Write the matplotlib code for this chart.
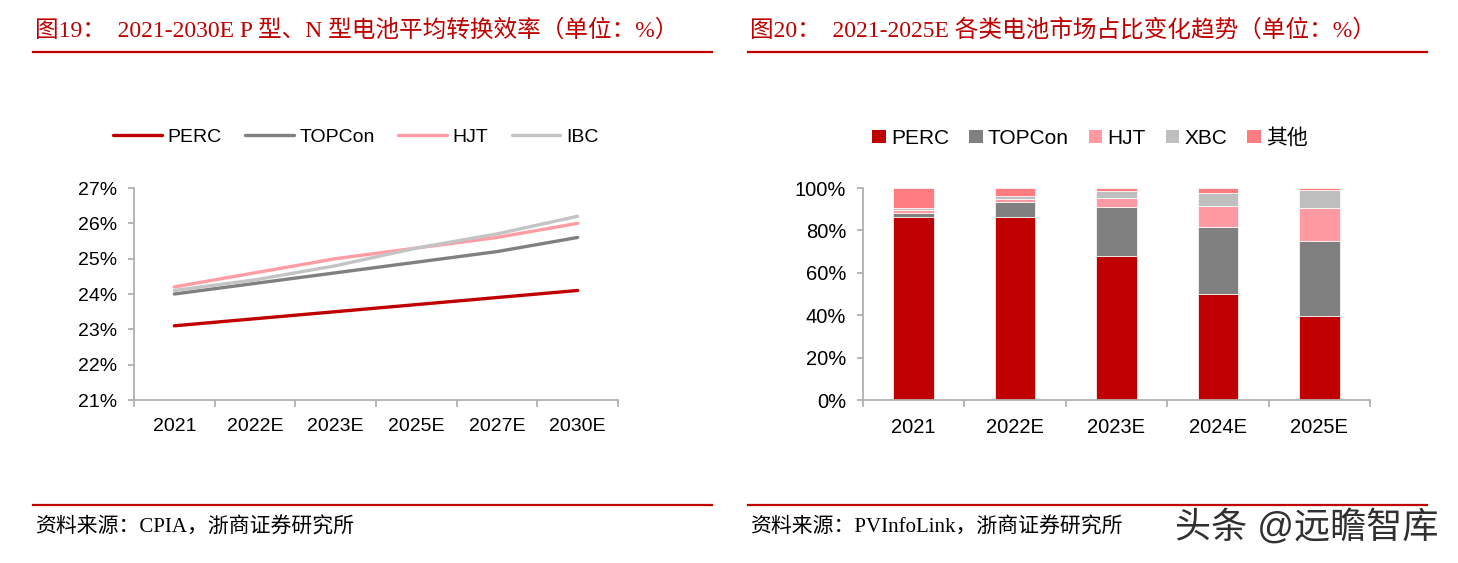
import matplotlib
matplotlib.use('Agg')
import matplotlib.pyplot as plt
from matplotlib.patches import Patch
from matplotlib.lines import Line2D
import numpy as np

plt.rcParams['font.family'] = ['Liberation Sans', 'Noto Sans CJK SC', 'DejaVu Sans']

# ---- 数据 ----
years_eff = ['2021', '2022E', '2023E', '2025E', '2027E', '2030E']
perc_eff = [23.1, 23.3, 23.5, 23.7, 23.9, 24.1]
topcon_eff = [24.0, 24.3, 24.6, 24.9, 25.2, 25.6]
hjt_eff = [24.2, 24.6, 25.0, 25.3, 25.6, 26.0]
ibc_eff = [24.1, 24.4, 24.8, 25.3, 25.7, 26.2]

years_share = ['2021', '2022E', '2023E', '2024E', '2025E']
perc_share = [86.5, 86.5, 68.1, 49.8, 39.8]
topcon_share = [1.9, 7.0, 22.9, 31.8, 35.3]
hjt_share = [1.1, 1.3, 4.1, 9.9, 15.3]
xbc_share = [1.1, 1.4, 3.6, 6.1, 8.5]
other_share = [9.4, 3.8, 1.3, 2.4, 1.1]

title_left = '图19：  2021-2030E P 型、N 型电池平均转换效率（单位：%）'
title_right = '图20：  2021-2025E 各类电池市场占比变化趋势（单位：%）'
source_left = '资料来源：CPIA，浙商证券研究所'
source_right = '资料来源：PVInfoLink，浙商证券研究所'

W, H = 1458, 563
fig = plt.figure(figsize=(W / 100, H / 100), dpi=100)

RED = '#C00000'
AXC = '#B0B0B0'
serif = ['Liberation Serif', 'Noto Sans CJK SC']


def fx(px):
    return px / W


def fy(py):
    return 1 - py / H


# 标题与底部说明
for x0, x1, t, s in [(33, 712, title_left, source_left), (748, 1427, title_right, source_right)]:
    fig.text(fx(x0 + 2), fy(30), t, color=RED, fontsize=17, family=serif, va='center', ha='left')
    fig.add_artist(Line2D([fx(x0), fx(x1)], [fy(52), fy(52)], color=RED, lw=1.6))
    fig.add_artist(Line2D([fx(x0), fx(x1)], [fy(505), fy(505)], color=RED, lw=1.6))
    fig.text(fx(x0 + 2), fy(528), s, color='black', fontsize=15, family=serif, va='center', ha='left')

fig.text(fx(1175), fy(528), '头条 @远瞻智库', color='#303030', fontsize=26, va='center', ha='left')


def style_axis(ax, n, fs):
    for sp in ['top', 'right']:
        ax.spines[sp].set_visible(False)
    ax.spines['left'].set_color(AXC)
    ax.spines['bottom'].set_color(AXC)
    ax.spines['left'].set_linewidth(1.3)
    ax.spines['bottom'].set_linewidth(1.3)
    ax.set_xlim(-0.5, n - 0.5)
    ax.set_xticks(range(n))
    ax.set_xticks(np.arange(-0.5, n, 1.0), minor=True)
    ax.tick_params(axis='x', which='major', length=0, pad=13, labelsize=fs)
    ax.tick_params(axis='x', which='minor', length=5, width=1.3, color=AXC)
    ax.tick_params(axis='y', length=4, width=1.3, color=AXC, pad=8, labelsize=fs)


# ---- 左图：转换效率 ----
ax1 = fig.add_axes([fx(134), fy(400), fx(618 - 134), (400 - 188) / H])
x = np.arange(len(years_eff))
ax1.plot(x, perc_eff, color='#C00000', lw=2.4, label='PERC', solid_capstyle='round')
ax1.plot(x, topcon_eff, color='#808080', lw=2.4, label='TOPCon', solid_capstyle='round')
ax1.plot(x, hjt_eff, color='#FF9CA4', lw=2.4, label='HJT', solid_capstyle='round')
ax1.plot(x, ibc_eff, color='#C4C4C4', lw=2.4, label='IBC', solid_capstyle='round')
ax1.set_ylim(21, 27)
ax1.set_yticks(range(21, 28))
ax1.set_yticklabels(['%d%%' % v for v in range(21, 28)])
ax1.set_xticklabels(years_eff)
style_axis(ax1, len(years_eff), 14)
fig.legend(handles=ax1.get_lines(), loc='center', bbox_to_anchor=(fx(356), fy(137)),
           ncol=4, frameon=False, fontsize=14, handlelength=2.5, columnspacing=1.2,
           handletextpad=0.3)

# ---- 右图：市场占比 ----
ax2 = fig.add_axes([fx(863), fy(400), fx(1370 - 863), (400 - 188) / H])
x2 = np.arange(len(years_share))
series = [('PERC', perc_share, '#C00000'), ('TOPCon', topcon_share, '#808080'),
          ('HJT', hjt_share, '#FF9AA2'), ('XBC', xbc_share, '#BFBFBF'),
          ('其他', other_share, '#FF7C80')]
bottom = np.zeros(len(years_share))
handles = []
for name, vals, col in series:
    ax2.bar(x2, vals, 0.4, bottom=bottom, color=col, edgecolor='white', linewidth=0.5)
    bottom += np.array(vals)
    handles.append(Patch(facecolor=col, label=name))
ax2.set_ylim(0, 100)
ax2.set_yticks(range(0, 101, 20))
ax2.set_yticklabels(['%d%%' % v for v in range(0, 101, 20)])
ax2.set_xticklabels(years_share)
style_axis(ax2, len(years_share), 14.5)
fig.legend(handles=handles, loc='center', bbox_to_anchor=(fx(1090), fy(138)),
           ncol=5, frameon=False, fontsize=15, handlelength=0.65, handleheight=0.65,
           columnspacing=0.95, handletextpad=0.25)

fig.savefig('out.png', dpi=100)
